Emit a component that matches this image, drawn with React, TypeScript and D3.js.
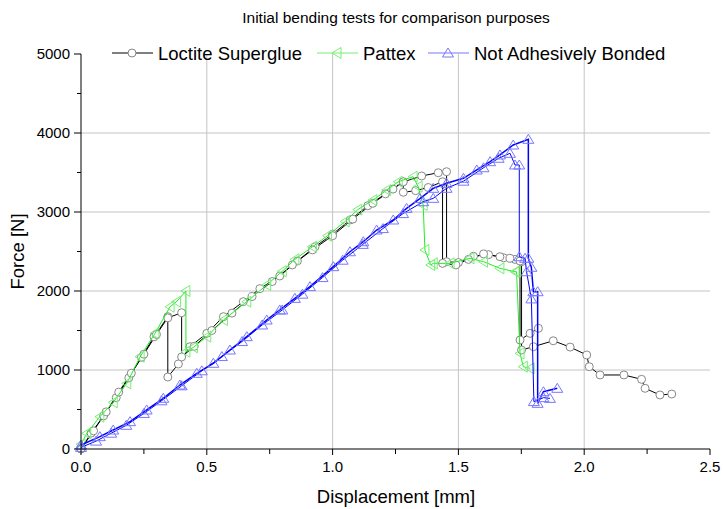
import * as d3 from "d3";

const title = "Initial bending tests for comparison purposes";
const xTicks = [0, 0.5, 1.0, 1.5, 2.0, 2.5];
const yTicks = [0, 1000, 2000, 3000, 4000, 5000];

// Loctite Superglue, two specimens
const loctiteA: [number, number][] = [
  [0, 0], [0.04, 200], [0.09, 420], [0.14, 650], [0.19, 900], [0.24, 1160], [0.29, 1420],
  [0.345, 1675], [0.345, 911], [0.387, 1076], [0.433, 1295], [0.5, 1464], [0.566, 1675],
  [0.645, 1865], [0.711, 2030], [0.79, 2190], [0.86, 2380], [0.93, 2560], [1.0, 2720],
  [1.07, 2900], [1.14, 3080], [1.21, 3230], [1.28, 3380], [1.354, 3456], [1.42, 3497],
  [1.453, 3510], [1.453, 2371], [1.5, 2360], [1.56, 2440], [1.62, 2460], [1.68, 2420],
  [1.725, 2400], [1.751, 2371], [1.751, 1253], [1.798, 1295], [1.877, 1370], [1.944, 1290],
  [2.01, 1190], [2.02, 1042], [2.063, 937], [2.158, 937], [2.228, 882], [2.242, 768],
  [2.301, 684], [2.348, 696],
];
const loctiteB: [number, number][] = [
  [0, 0], [0.05, 230], [0.1, 470], [0.15, 720], [0.2, 960], [0.25, 1200], [0.3, 1450],
  [0.345, 1660], [0.4, 1725], [0.4, 1165], [0.45, 1300], [0.52, 1500], [0.6, 1720],
  [0.68, 1930], [0.76, 2120], [0.84, 2330], [0.92, 2520], [1.0, 2700], [1.08, 2910],
  [1.16, 3110], [1.24, 3290], [1.281, 3383], [1.281, 3250], [1.33, 3270], [1.38, 3310],
  [1.437, 3383], [1.437, 2350], [1.49, 2330], [1.54, 2400], [1.6, 2470], [1.665, 2434],
  [1.705, 2414], [1.745, 2380], [1.745, 1380], [1.785, 1464], [1.818, 1528],
];
// Pattex
const pattex: [number, number][] = [
  [0, 60], [0.023, 198], [0.075, 409], [0.128, 590], [0.182, 831], [0.235, 1168],
  [0.294, 1464], [0.354, 1801], [0.38, 1865], [0.417, 2000], [0.417, 1232], [0.447, 1287],
  [0.5, 1422], [0.566, 1633], [0.659, 1865], [0.738, 2076], [0.8, 2250], [0.85, 2400],
  [0.92, 2560], [0.98, 2700], [1.05, 2880], [1.1, 3030], [1.16, 3150], [1.215, 3278],
  [1.261, 3383], [1.32, 3447], [1.34, 3320], [1.36, 3089], [1.367, 2519], [1.39, 2329],
  [1.4, 2350], [1.467, 2350], [1.546, 2414], [1.6, 2371], [1.665, 2287], [1.725, 2244],
  [1.731, 2244], [1.745, 1211], [1.758, 1042], [1.785, 1021],
];
// Not Adhesively Bonded, two specimens
const bondlessA: [number, number][] = [
  [0, 50], [0.075, 156], [0.128, 240], [0.195, 346], [0.261, 494], [0.327, 642], [0.393, 810],
  [0.46, 958], [0.526, 1085], [0.592, 1253], [0.659, 1422], [0.738, 1633], [0.79, 1760],
  [0.85, 1907], [0.91, 2055], [1.003, 2308], [1.069, 2497], [1.122, 2624], [1.175, 2772],
  [1.241, 2899], [1.294, 3046], [1.347, 3170], [1.4, 3300], [1.453, 3363], [1.52, 3427],
  [1.573, 3532], [1.626, 3637], [1.665, 3722], [1.718, 3848], [1.778, 3920], [1.778, 2414],
  [1.79, 2300], [1.798, 1991], [1.815, 1991], [1.815, 578], [1.838, 725], [1.893, 768],
];
const bondlessB: [number, number][] = [
  [0, 20], [0.06, 100], [0.12, 200], [0.18, 300], [0.25, 450], [0.32, 610], [0.4, 800],
  [0.48, 990], [0.56, 1170], [0.64, 1360], [0.72, 1570], [0.8, 1760], [0.88, 1960],
  [0.96, 2170], [1.04, 2390], [1.12, 2590], [1.2, 2790], [1.28, 2980], [1.36, 3130],
  [1.4, 3173], [1.453, 3300], [1.52, 3390], [1.6, 3560], [1.66, 3680], [1.705, 3743],
  [1.725, 3595], [1.742, 3595], [1.742, 2434], [1.765, 2414], [1.771, 2244], [1.79, 1900],
  [1.8, 600], [1.838, 650], [1.864, 641],
];

const font = "'Liberation Sans', Arial, sans-serif";
const W = 723;
const H = 509;

const x = d3.scaleLinear().domain([0, 2.5]).range([81, 710]);
const y = d3.scaleLinear().domain([0, 5000]).range([449, 54]);
const line = d3.line<[number, number]>().x(d => x(d[0])).y(d => y(d[1]));

const triUp = "M0,-5 L5.5,4 L-5.5,4 Z";
const triLeft = "M-5,0 L4,-5.5 L4,5.5 Z";

const series = [
  { name: "Loctite Superglue", specimens: [loctiteA, loctiteB], color: "#000000", mark: "#888888", shape: "circle", lx: 112 },
  { name: "Pattex", specimens: [pattex], color: "#22ee22", mark: "#77ee77", shape: "left", lx: 317 },
  { name: "Not Adhesively Bonded", specimens: [bondlessA, bondlessB], color: "#0000ff", mark: "#7777ff", shape: "up", lx: 428 },
];

function Marker({ shape, color, cx, cy }: { shape: string; color: string; cx: number; cy: number }) {
  if (shape === "circle")
    return <circle cx={cx} cy={cy} r={4} fill="#fff" stroke={color} strokeWidth={1} />;
  return (
    <path d={shape === "up" ? triUp : triLeft} transform={`translate(${cx},${cy})`}
      fill="none" stroke={color} strokeWidth={1} />
  );
}

export default function App() {
  const xMinor = d3.range(0, 2.501, 0.25);
  const yMinor = d3.range(0, 5001, 500);
  return (
    <svg width={W} height={H} style={{ position: "absolute", left: 0, top: 0, background: "#fff" }}
      fontFamily={font}>
      <rect width={W} height={H} fill="#fff" />
      <text x={396} y={23} textAnchor="middle" fontSize={15.5} fill="#000">{title}</text>

      {/* grid */}
      {xTicks.filter(t => t > 0 && t < 2.5).map(t => (
        <line key={"gx" + t} x1={x(t)} x2={x(t)} y1={y(0)} y2={y(5000)} stroke="#c4c4c4" />
      ))}
      {yTicks.filter(t => t > 0 && t < 5000).map(t => (
        <line key={"gy" + t} x1={x(0)} x2={x(2.5)} y1={y(t)} y2={y(t)} stroke="#c4c4c4" />
      ))}

      {/* series */}
      {series.map(s => (
        <g key={s.name}>
          {s.specimens.map((d, i) => (
            <path key={i} d={line(d) || ""} fill="none" stroke={s.color} strokeWidth={s.shape === "up" && i === 0 ? 1.5 : 1} />
          ))}
          {s.specimens.map((d, i) =>
            d.map((p, j) => <Marker key={i + "-" + j} shape={s.shape} color={s.mark} cx={x(p[0])} cy={y(p[1])} />)
          )}
        </g>
      ))}

      {/* axes */}
      <line x1={x(0)} x2={x(2.5)} y1={y(0)} y2={y(0)} stroke="#000" />
      <line x1={x(0)} x2={x(0)} y1={y(0)} y2={y(5000)} stroke="#000" />
      {xMinor.map(t => (
        <line key={"tx" + t} x1={x(t)} x2={x(t)} y1={y(0)} y2={y(0) + (Math.abs(t * 2 - Math.round(t * 2)) < 1e-6 ? 6 : 5)} stroke="#000" />
      ))}
      {yMinor.map(t => (
        <line key={"ty" + t} x1={x(0) - (t % 1000 === 0 ? 7 : 4)} x2={x(0)} y1={y(t)} y2={y(t)} stroke="#000" />
      ))}
      {xTicks.map(t => (
        <text key={"lx" + t} x={x(t)} y={y(0) + 23} textAnchor="middle" fontSize={15} fill="#000">{t.toFixed(1)}</text>
      ))}
      {yTicks.map(t => (
        <text key={"ly" + t} x={x(0) - 11} y={y(t) + 5} textAnchor="end" fontSize={15} fill="#000">{t}</text>
      ))}
      <text x={396} y={503} textAnchor="middle" fontSize={18.5} fill="#000">Displacement [mm]</text>
      <text transform={`translate(24,${y(2500)}) rotate(-90)`} textAnchor="middle" fontSize={18.5} fill="#000">Force [N]</text>

      {/* legend */}
      {series.map(s => (
        <g key={"lg" + s.name}>
          <line x1={s.lx} x2={s.lx + 41} y1={53} y2={53} stroke={s.shape === "circle" ? s.color : s.mark} strokeWidth={1.2} />
          <Marker shape={s.shape} color={s.mark} cx={s.lx + 20} cy={53} />
          <text x={s.lx + 46} y={60} fontSize={18.5} fill="#000">{s.name}</text>
        </g>
      ))}
    </svg>
  );
}
